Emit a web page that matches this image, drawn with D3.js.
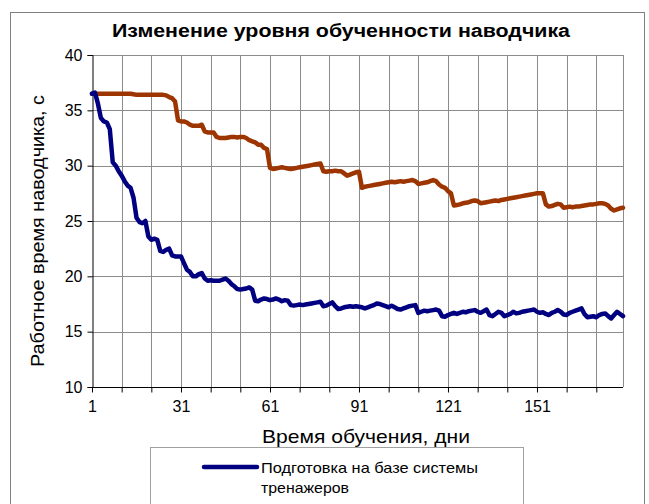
<!DOCTYPE html>
<html lang="ru">
<head>
    <meta charset="UTF-8">
    <title>Изменение уровня обученности наводчика</title>
    <script src="https://d3js.org/d3.v7.min.js"></script>
    <style>
        body { margin: 0; background: #fff; }
        text { font-family: "Liberation Sans", Arial, sans-serif; fill: #000; }
        .grid line { stroke: #8c8c8c; stroke-width: 1px; shape-rendering: crispEdges; }
        .series { fill: none; stroke-width: 4.5px; stroke-linejoin: round; stroke-linecap: round; }
    </style>
</head>
<body>
<div id="chart"></div>
<script>
    // days of training (category axis)
    const days = d3.range(1, 181);
    const xTickLabels = [1, 31, 61, 91, 121, 151];
    const yTicks = [10, 15, 20, 25, 30, 35, 40];

    // trainer-based training (blue)
    const trainerSeries = [
        36.5, 36.6, 35.6, 34.3, 34.0, 33.9, 33.3, 30.3, 30.0, 29.5,
        29.1, 28.6, 28.2, 28.0, 27.1, 25.3, 24.9, 24.8, 25.0, 23.6,
        23.3, 23.4, 23.3, 22.3, 22.2, 22.4, 22.5, 21.9, 21.8, 21.8,
        21.8, 21.2, 20.6, 20.4, 20.0, 20.0, 20.2, 20.3, 19.8, 19.6,
        19.65, 19.6, 19.6, 19.6, 19.7, 19.8, 19.6, 19.3, 19.1, 18.85,
        18.8, 18.85, 18.9, 19.0, 18.8, 17.8, 17.75, 17.9, 18.0, 17.95,
        17.85, 17.9, 18.0, 17.9, 17.75, 17.85, 17.8, 17.4, 17.35, 17.4,
        17.45, 17.4, 17.45, 17.5, 17.55, 17.6, 17.65, 17.7, 17.3, 17.35,
        17.5, 17.65, 17.3, 17.05, 17.1, 17.2, 17.25, 17.3, 17.25, 17.3,
        17.25, 17.2, 17.1, 17.2, 17.3, 17.4, 17.55, 17.5, 17.4, 17.3,
        17.2, 17.35, 17.2, 17.05, 17.0, 17.1, 17.2, 17.3, 17.35, 17.4,
        16.7, 16.8, 16.9, 16.85, 16.9, 16.95, 17.0, 16.9, 16.4, 16.35,
        16.5, 16.6, 16.7, 16.6, 16.7, 16.8, 16.75, 16.85, 16.9, 16.95,
        16.8, 16.7, 16.85, 17.0, 16.5, 16.4, 16.6, 16.8, 16.7, 16.4,
        16.5, 16.6, 16.8, 16.65, 16.7, 16.8, 16.85, 16.9, 16.95, 17.0,
        16.8, 16.7, 16.75, 16.6, 16.5, 16.7, 16.8, 16.95, 16.8, 16.55,
        16.5, 16.7, 16.8, 16.9, 17.0, 17.1, 16.6, 16.3, 16.35, 16.4,
        16.3, 16.5, 16.6, 16.65, 16.4, 16.2, 16.5, 16.8, 16.6, 16.4
    ];

    // traditional training (brown)
    const traditionalSeries = [
        36.5, 36.5, 36.5, 36.5, 36.5, 36.5, 36.5, 36.5, 36.5, 36.5,
        36.5, 36.5, 36.5, 36.5, 36.45, 36.4, 36.4, 36.4, 36.4, 36.4,
        36.4, 36.4, 36.4, 36.4, 36.4, 36.35, 36.2, 36.1, 35.8, 34.1,
        34.0, 34.0, 33.9, 33.7, 33.6, 33.6, 33.6, 33.7, 33.1, 33.0,
        33.0, 33.0, 32.6, 32.5, 32.5, 32.5, 32.55, 32.6, 32.6, 32.55,
        32.6, 32.6, 32.5, 32.3, 32.2, 32.1, 31.9, 31.9, 31.6, 31.5,
        29.8, 29.7, 29.75, 29.8, 29.85, 29.8, 29.75, 29.7, 29.75, 29.8,
        29.85, 29.9, 29.95, 30.0, 30.05, 30.1, 30.15, 30.2, 29.5, 29.45,
        29.5, 29.5, 29.55, 29.5, 29.5, 29.3, 29.1, 29.2, 29.3, 29.4,
        29.45, 28.0, 28.1, 28.15, 28.2, 28.25, 28.3, 28.35, 28.4, 28.45,
        28.5, 28.55, 28.5, 28.55, 28.6, 28.55, 28.6, 28.65, 28.7, 28.6,
        28.35, 28.4, 28.45, 28.5, 28.6, 28.7, 28.6, 28.3, 28.1, 28.0,
        27.7, 27.5, 26.4, 26.45, 26.5, 26.6, 26.65, 26.7, 26.8, 26.85,
        26.8, 26.6, 26.65, 26.7, 26.75, 26.8, 26.85, 26.8, 26.9, 26.95,
        27.0, 27.05, 27.1, 27.15, 27.2, 27.25, 27.3, 27.35, 27.4, 27.45,
        27.5, 27.5, 27.5, 26.5, 26.3, 26.35, 26.45, 26.55, 26.5, 26.2,
        26.25, 26.3, 26.25, 26.3, 26.3, 26.35, 26.4, 26.45, 26.5, 26.5,
        26.55, 26.6, 26.6, 26.55, 26.4, 26.1, 25.95, 26.05, 26.15, 26.2
    ];

    const width = 649, height = 504;
    const plot = { left: 92, right: 623, top: 55, bottom: 387 };
    const font = '"Liberation Sans", Arial, sans-serif';

    const svg = d3.select("#chart")
        .append("svg")
        .attr("width", width)
        .attr("height", height);

    // outer chart frame
    svg.append("rect")
        .attr("x", 10.5).attr("y", 12.5)
        .attr("width", 634).attr("height", 520)
        .attr("fill", "#fff")
        .attr("stroke", "#808080");

    const x = d3.scaleLinear()
        .domain([1, 180])
        .range([plot.left, plot.right]);

    const y = d3.scaleLinear()
        .domain([10, 40])
        .range([plot.bottom, plot.top]);

    // gridlines
    const grid = svg.append("g").attr("class", "grid");
    grid.selectAll(".hg")
        .data(yTicks.slice(1))
        .enter().append("line")
        .attr("x1", plot.left).attr("x2", plot.right)
        .attr("y1", d => Math.round(y(d)) + 0.5)
        .attr("y2", d => Math.round(y(d)) + 0.5);
    grid.selectAll(".vg")
        .data(days.filter(d => (d - 1) % 10 === 0 && d > 1))
        .enter().append("line")
        .attr("y1", plot.top).attr("y2", plot.bottom)
        .attr("x1", d => Math.round(x(d)) + 0.5)
        .attr("x2", d => Math.round(x(d)) + 0.5);
    grid.append("line")
        .attr("x1", plot.right + 0.5).attr("x2", plot.right + 0.5)
        .attr("y1", plot.top).attr("y2", plot.bottom);

    // axes
    const yAxis = svg.append("g")
        .attr("transform", `translate(${plot.left + 0.5},0)`)
        .call(d3.axisLeft(y).tickValues(yTicks).tickSize(5).tickPadding(5));
    yAxis.select(".domain").attr("stroke", "#000");
    yAxis.selectAll("text").style("font-size", "16px").style("font-family", font);

    const xAxis = svg.append("g")
        .attr("transform", `translate(0,${plot.bottom + 0.5})`)
        .call(d3.axisBottom(x)
            .tickValues(days.filter(d => (d - 1) % 10 === 0))
            .tickSize(5)
            .tickPadding(8)
            .tickFormat(d => xTickLabels.includes(d) ? d : ""));
    xAxis.select(".domain").attr("d", `M${plot.left},0H${plot.right}`).attr("stroke", "#000");
    xAxis.selectAll("text").style("font-size", "16px").style("font-family", font);

    // series
    const line = d3.line()
        .x((d, i) => x(days[i]))
        .y(d => y(d));

    svg.append("path")
        .datum(traditionalSeries)
        .attr("class", "series")
        .attr("stroke", "#9c3500")
        .attr("d", line);

    svg.append("path")
        .datum(trainerSeries)
        .attr("class", "series")
        .attr("stroke", "#000080")
        .attr("d", line);

    // title and axis labels (Excel text is a bit wider than the font's own metrics)
    svg.append("text")
        .attr("x", 341).attr("y", 37)
        .attr("text-anchor", "middle")
        .attr("textLength", 458)
        .attr("lengthAdjust", "spacingAndGlyphs")
        .style("font-size", "18px")
        .style("font-weight", "bold")
        .text("Изменение уровня обученности наводчика");

    svg.append("text")
        .attr("transform", "rotate(-90)")
        .attr("x", -231).attr("y", 44)
        .attr("text-anchor", "middle")
        .attr("textLength", 272)
        .attr("lengthAdjust", "spacingAndGlyphs")
        .style("font-size", "18px")
        .text("Работное время наводчика, с");

    svg.append("text")
        .attr("x", 366).attr("y", 443)
        .attr("text-anchor", "middle")
        .attr("textLength", 208)
        .attr("lengthAdjust", "spacingAndGlyphs")
        .style("font-size", "19px")
        .text("Время обучения, дни");

    // legend (only the first entry is visible)
    const legend = svg.append("g");
    legend.append("rect")
        .attr("x", 150.5).attr("y", 447.5)
        .attr("width", 373).attr("height", 80)
        .attr("fill", "#fff")
        .attr("stroke", "#a0a0a0");
    legend.append("line")
        .attr("x1", 204).attr("x2", 257)
        .attr("y1", 467).attr("y2", 467)
        .attr("stroke", "#000080")
        .attr("stroke-width", 4.5)
        .attr("stroke-linecap", "round");
    legend.append("text")
        .attr("x", 261).attr("y", 473)
        .attr("textLength", 217)
        .attr("lengthAdjust", "spacingAndGlyphs")
        .style("font-size", "15px")
        .text("Подготовка на базе системы");
    legend.append("text")
        .attr("x", 261).attr("y", 493)
        .attr("textLength", 88)
        .attr("lengthAdjust", "spacingAndGlyphs")
        .style("font-size", "15px")
        .text("тренажеров");
</script>
</body>
</html>
